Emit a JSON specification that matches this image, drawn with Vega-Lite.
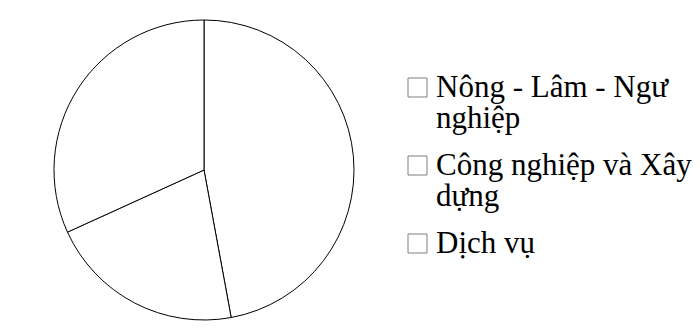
{
  "$schema": "https://vega.github.io/schema/vega-lite/v6.json",
  "width": 700,
  "height": 340,
  "autosize": {"type": "none"},
  "padding": {"left": 5, "top": 5, "right": 0, "bottom": 0},
  "background": "white",
  "data": {
    "values": [
      {"stt": 1, "nganh": "Nông - Lâm - Ngư nghiệp", "ty_trong": 47.1},
      {"stt": 2, "nganh": "Công nghiệp và Xây dựng", "ty_trong": 21.1},
      {"stt": 3, "nganh": "Dịch vụ", "ty_trong": 31.8}
    ]
  },
  "mark": {"type": "arc", "radius": 150, "x": 199, "y": 165, "stroke": "black", "strokeWidth": 1},
  "encoding": {
    "theta": {"field": "ty_trong", "type": "quantitative", "stack": true},
    "order": {"field": "stt", "type": "ordinal"},
    "color": {
      "field": "nganh",
      "type": "nominal",
      "sort": ["Nông - Lâm - Ngư nghiệp", "Công nghiệp và Xây dựng", "Dịch vụ"],
      "scale": {"range": ["white", "white", "white"]},
      "legend": {
        "title": null,
        "orient": "none",
        "legendX": 397,
        "legendY": 67,
        "padding": 0,
        "symbolType": "square",
        "symbolSize": 361,
        "symbolStrokeColor": "#7f7f7f",
        "symbolStrokeWidth": 1,
        "labelFont": "Liberation Serif",
        "labelFontSize": 31,
        "labelColor": "black",
        "labelLimit": 400,
        "labelOffset": 3,
        "rowPadding": 15,
        "labelExpr": "datum.label == 'Nông - Lâm - Ngư nghiệp' ? ['Nông - Lâm - Ngư', 'nghiệp'] : datum.label == 'Công nghiệp và Xây dựng' ? ['Công nghiệp và Xây', 'dựng'] : datum.label"
      }
    }
  },
  "config": {
    "view": {"stroke": "#d9d9d9", "strokeWidth": 1},
    "style": {"guide-label": {"lineHeight": 31}}
  }
}
